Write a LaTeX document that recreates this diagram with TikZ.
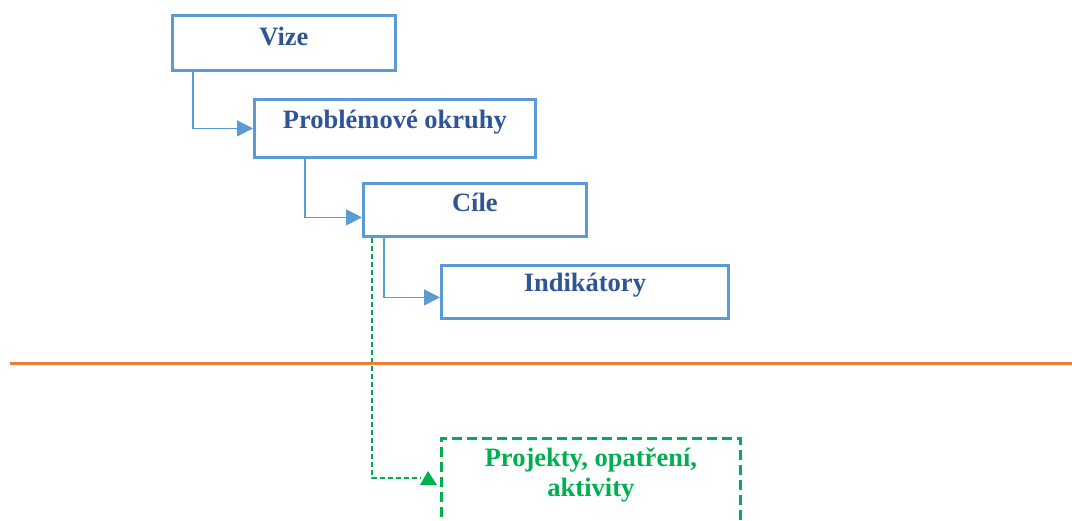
\documentclass[tikz,border=0pt]{standalone}
\usepackage{fontspec}
\setmainfont{Liberation Serif}
\usetikzlibrary{arrows.meta}
\definecolor{boxblue}{HTML}{5B9BD5}
\definecolor{txtblue}{HTML}{2F5597}
\definecolor{grn}{HTML}{00B050}
\definecolor{orng}{HTML}{ED7D31}
\begin{document}
\begin{tikzpicture}[x=1pt,y=-1pt,
  box/.style={draw=boxblue, line width=2.8pt, anchor=north west, inner sep=0pt,
    font=\fontsize{26.5}{30}\selectfont\bfseries, text=txtblue},
  gbox/.style={draw=grn, line width=2.8pt, dash pattern=on 10pt off 5pt, anchor=north west, inner sep=0pt,
    font=\fontsize{26.5}{30}\selectfont\bfseries, text=grn},
  conn/.style={draw=boxblue, line width=1.4pt, -{Triangle[length=16pt,width=16pt]}},
  gconn/.style={draw=grn, line width=1.2pt, dash pattern=on 5pt off 3pt}]
\useasboundingbox (0,0) rectangle (1072,520);
\clip (0,0) rectangle (1072,520);
\node[box, minimum width=223pt, text height=30pt, text depth=25pt] (vize) at (171,14) {Vize};
\node[box, minimum width=281pt, text height=29pt, text depth=29pt] (prob) at (253,98) {Problémové okruhy};
\node[box, minimum width=223pt, text height=28pt, text depth=25pt] (cile) at (362,182) {Cíle};
\node[box, minimum width=287pt, text height=26pt, text depth=27pt] (ind) at (440,264) {Indikátory};
\node[gbox, minimum width=299pt, text height=28pt, text depth=100pt] (proj) at (440,437)
  {\begin{tabular}[t]{@{}c@{}}Projekty, opatření,\\aktivity\end{tabular}};
\draw[conn] ([xshift=22pt]vize.south west) |- (prob.west);
\draw[conn] ([xshift=52pt]prob.south west) |- ([yshift=-7.5pt]cile.west);
\draw[conn] ([xshift=22pt]cile.south west) |- ([yshift=-5.5pt]ind.west);
\coordinate (gend) at ([xshift=-20pt,yshift=-41pt]proj.north west);
\draw[gconn] ([xshift=10pt]cile.south west) |- (gend);
\fill[grn] ([xshift=-12pt,yshift=-34pt]proj.north west) -- ([xshift=-20pt,yshift=-48pt]proj.north west) -- ([xshift=-3pt,yshift=-48pt]proj.north west) -- cycle;
\draw[orng, line width=3pt] (10,363) -- (1072,363);
\end{tikzpicture}
\end{document}
